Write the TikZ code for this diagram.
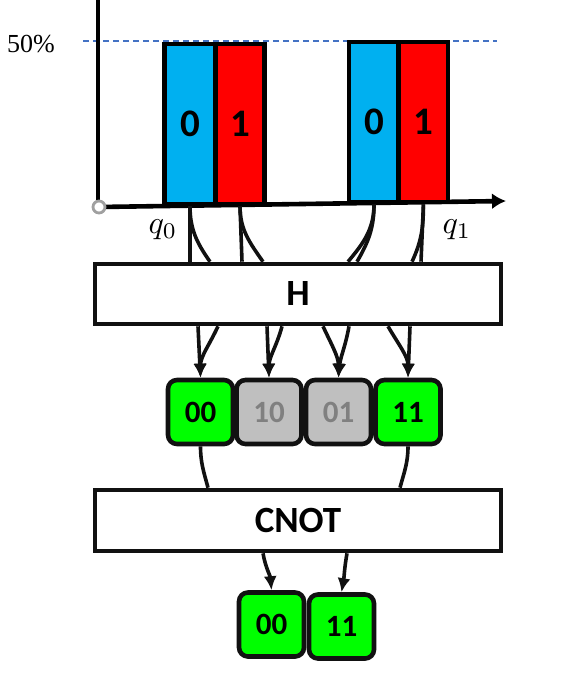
\documentclass[tikz,border=0pt]{standalone}
\usepackage{fontspec}
\setmainfont{Carlito}
\newfontfamily\serifa{Liberation Serif}
\usetikzlibrary{arrows.meta}
\definecolor{barblue}{HTML}{00B0F0}
\definecolor{barred}{HTML}{FF0000}
\definecolor{stgreen}{HTML}{00FF00}
\definecolor{stgray}{HTML}{BFBFBF}
\definecolor{txtgray}{HTML}{808080}
\definecolor{dashblue}{HTML}{4472C4}
\definecolor{linek}{HTML}{111111}
\definecolor{origin}{HTML}{A0A0A0}
\begin{document}
\begin{tikzpicture}[x=1pt,y=-1pt,
  bar/.style={draw=black, line width=4.6pt, minimum height=160pt, inner sep=0pt,
    font=\fontsize{39}{44}\selectfont\bfseries, text=black},
  gate/.style={draw=linek, fill=white, line width=4.6pt, minimum width=406pt, inner sep=0pt,
    font=\fontsize{37}{42}\selectfont\bfseries},
  state/.style={draw=linek, line width=4.6pt, rounded corners=9pt, minimum width=65pt,
    minimum height=64pt, inner sep=0pt, font=\fontsize{31}{36}\selectfont\bfseries},
  on/.style={state, fill=stgreen, text=black},
  off/.style={state, fill=stgray, text=txtgray},
  wire/.style={draw=linek, line width=3.6pt},
  arr/.style={wire, -{Latex[length=14pt,width=13pt]}},
  axis/.style={draw=black, line width=4.6pt}
]
\useasboundingbox (0,0) rectangle (581,684);

% axes
\coordinate (ytop) at (98,0);
\coordinate (xend) at (506,201);
\draw[dashblue, line width=1.4pt, dash pattern=on 6pt off 4pt] (83,41) -- (497,41);
\node[font=\serifa\fontsize{26}{30}\selectfont] (pct) at (31,44) {50\%};
\draw[axis] (98,207) -- (ytop);
\draw[axis, -{Latex[length=14pt,width=16pt]}] (99,207) -- (xend);

% bars
\node[bar, fill=barblue, minimum width=50.5pt] (b00) at (190,124) {0};
\node[bar, fill=barred, minimum width=48.5pt] (b01) at (240,124) {1};
\node[bar, fill=barblue, minimum width=49.7pt] (b10) at (374,122) {0};
\node[bar, fill=barred, minimum width=49.3pt] (b11) at (423.4,122) {1};
\node[circle, draw=origin, fill=white, line width=2.8pt, minimum size=12pt, inner sep=0pt] (o) at (99,207) {};

\node[scale=3.2] (q0) at (163,230) {$q_0$};
\node[scale=3.2] (q1) at (457,230) {$q_1$};

% gates
\node[gate, minimum height=60pt] (H) at (298,294) {H};
\node[gate, minimum height=61pt] (CNOT) at (298,520.5) {CNOT};

% states
\node[on] (s00) at (200.5,412) {00};
\node[off] (s10) at (269,412) {10};
\node[off] (s01) at (338.5,412) {01};
\node[on] (s11) at (408,412) {11};

\node[on] (f00) at (271.5,624.5) {00};
\node[on] (f11) at (341.5,626.5) {11};

% bars to H
\draw[wire] (b00.south) -- ([xshift=-108pt]H.north);
\draw[wire] (b00.south) to[out=-90,in=125] ([xshift=-88pt]H.north);
\draw[wire] (b01.south) -- ([xshift=-56pt]H.north);
\draw[wire] (b01.south) to[out=-90,in=125] ([xshift=-35pt]H.north);
\draw[wire] (b10.south) to[out=-90,in=50] ([xshift=50pt]H.north);
\draw[wire] (b10.south) to[out=-90,in=60] ([xshift=59pt]H.north);
\draw[wire] (b11.south) -- ([xshift=123pt]H.north);
\draw[wire] (b11.south) to[out=-90,in=65] ([xshift=114pt]H.north);

% H to states
\draw[arr] ([xshift=-100pt]H.south) -- (s00.north);
\draw[arr] ([xshift=-80pt]H.south) to[out=-115,in=90] (s00.north);
\draw[arr] ([xshift=-31pt]H.south) -- (s10.north);
\draw[arr] ([xshift=-16pt]H.south) to[out=-105,in=90] (s10.north);
\draw[arr] ([xshift=25pt]H.south) to[out=-65,in=90] (s01.north);
\draw[arr] ([xshift=51pt]H.south) to[out=-100,in=85] (s01.north);
\draw[arr] ([xshift=90pt]H.south) to[out=-60,in=90] (s11.north);
\draw[arr] ([xshift=112pt]H.south) -- (s11.north);

% states to CNOT
\draw[wire] (s00.south) to[out=-90,in=105] ([xshift=-90pt]CNOT.north);
\draw[wire] (s11.south) to[out=-90,in=75] ([xshift=102pt]CNOT.north);

% CNOT to final
\draw[arr] ([xshift=-35pt]CNOT.south) to[out=-80,in=95] (f00.north);
\draw[arr] ([xshift=49pt]CNOT.south) to[out=-100,in=80] (f11.north);
\end{tikzpicture}
\end{document}
